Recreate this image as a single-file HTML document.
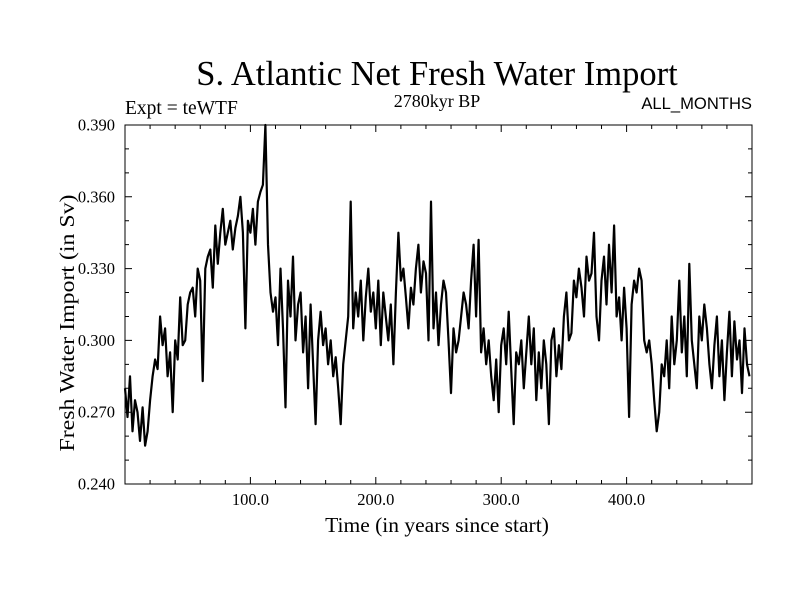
<!DOCTYPE html>
<html><head><meta charset="utf-8"><style>
html,body{margin:0;padding:0;background:#fff;}
svg{display:block;}
</style></head><body>
<svg id="chart" width="800" height="600" xmlns="http://www.w3.org/2000/svg" font-family="'Liberation Serif', serif">
<rect width="800" height="600" fill="#fff"/>
<text x="437" y="85" font-size="34.5" text-anchor="middle">S. Atlantic Net Fresh Water Import</text>
<text x="125" y="114" font-size="19.5">Expt = teWTF</text>
<text x="437" y="107" font-size="18" text-anchor="middle">2780kyr BP</text>
<text x="752" y="109" font-size="16.6" text-anchor="end" font-family="'Liberation Sans', sans-serif">ALL_MONTHS</text>
<text x="437" y="532" font-size="21.5" text-anchor="middle">Time (in years since start)</text>
<text transform="translate(74,323) rotate(-90)" font-size="21.5" text-anchor="middle" textLength="257" lengthAdjust="spacingAndGlyphs">Fresh Water Import (in Sv)</text>
<g id="ticks"></g>
<path id="series" fill="none" stroke="#000" stroke-width="2.2" stroke-linejoin="round"/>
<rect x="125" y="125" width="627" height="359" fill="none" stroke="#000" stroke-width="1"/>
</svg>
<script>
const years = [];
for (let i = 0; i < 250; i++) years.push(i * 2);
const values = [
.280,.268,.285,.262,.275,.270,.258,.272,.256,.262,
.275,.285,.292,.288,.310,.298,.305,.285,.295,.270,
.300,.292,.318,.298,.300,.315,.320,.322,.310,.330,
.325,.283,.330,.335,.338,.322,.348,.332,.345,.355,
.340,.345,.350,.338,.347,.352,.360,.345,.305,.350,
.345,.355,.340,.358,.362,.365,.390,.340,.320,.312,
.318,.298,.330,.305,.272,.325,.310,.335,.300,.315,
.320,.295,.310,.280,.315,.290,.265,.300,.312,.298,
.305,.290,.300,.285,.293,.280,.265,.290,.300,.310,
.358,.305,.320,.310,.325,.300,.318,.330,.312,.320,
.305,.325,.298,.320,.310,.300,.315,.290,.320,.345,
.325,.330,.318,.305,.322,.315,.330,.340,.320,.333,
.328,.300,.358,.305,.320,.298,.315,.325,.320,.300,
.278,.305,.295,.300,.310,.320,.315,.305,.325,.340,
.310,.342,.295,.305,.290,.300,.285,.275,.292,.270,
.298,.305,.290,.312,.288,.265,.295,.290,.300,.280,
.295,.310,.290,.305,.275,.295,.280,.300,.290,.265,
.300,.305,.285,.298,.288,.310,.320,.300,.303,.325,
.318,.330,.322,.310,.335,.325,.328,.345,.310,.300,
.325,.335,.315,.340,.320,.348,.310,.318,.300,.322,
.305,.268,.315,.325,.320,.330,.325,.300,.295,.300,
.290,.275,.262,.270,.290,.285,.300,.280,.310,.290,
.300,.325,.295,.310,.285,.332,.300,.290,.280,.310,
.300,.315,.305,.290,.280,.298,.310,.285,.300,.275,
.295,.312,.285,.308,.292,.300,.278,.305,.290,.285];
const xMajor = [100, 200, 300, 400];
const xTickLabels = ["100.0", "200.0", "300.0", "400.0"];
const yMajor = [0.24, 0.27, 0.30, 0.33, 0.36, 0.39];
const yTickLabels = ["0.240", "0.270", "0.300", "0.330", "0.360", "0.390"];

const L = 125, R = 752, T = 125, B = 484;
const xMin = 0, xMax = 500, yMin = 0.24, yMax = 0.39;
const xs = v => L + (v - xMin) / (xMax - xMin) * (R - L);
const ys = v => B - (v - yMin) / (yMax - yMin) * (B - T);
const NS = "http://www.w3.org/2000/svg";
const g = document.getElementById('ticks');
let d = "";
function line(x1, y1, x2, y2) { d += `M${x1},${y1}L${x2},${y2}`; }
for (let yr = 20; yr < 500; yr += 20) {
  const x = xs(yr), major = yr % 100 === 0, len = major ? 7 : 4;
  line(x, B, x, B - len); line(x, T, x, T + len);
}
for (let k = 1; k < 15; k++) {
  const v = yMin + k * 0.01, y = ys(v), major = k % 3 === 0, len = major ? 7 : 4;
  line(L, y, L + len, y); line(R, y, R - len, y);
}
const tp = document.createElementNS(NS, 'path');
tp.setAttribute('d', d); tp.setAttribute('stroke', '#000'); tp.setAttribute('stroke-width', '1'); tp.setAttribute('fill', 'none');


g.appendChild(tp);
xMajor.forEach((v, i) => {
  const t = document.createElementNS(NS, 'text');
  t.setAttribute('x', xs(v)); t.setAttribute('y', 505); t.setAttribute('font-size', '16.5'); t.setAttribute('text-anchor', 'middle');
  t.textContent = xTickLabels[i];
  
  
  g.appendChild(t);
});
yMajor.forEach((v, i) => {
  const t = document.createElementNS(NS, 'text');
  t.setAttribute('x', 115); t.setAttribute('y', ys(v) + 5.5); t.setAttribute('font-size', '16.5'); t.setAttribute('text-anchor', 'end');
  t.textContent = yTickLabels[i];
  
  
  g.appendChild(t);
});
let p = "";
values.forEach((v, i) => { p += (i ? "L" : "M") + xs(years[i]).toFixed(1) + "," + ys(v).toFixed(1); });
document.getElementById('series').setAttribute('d', p);
</script>
</body></html>
